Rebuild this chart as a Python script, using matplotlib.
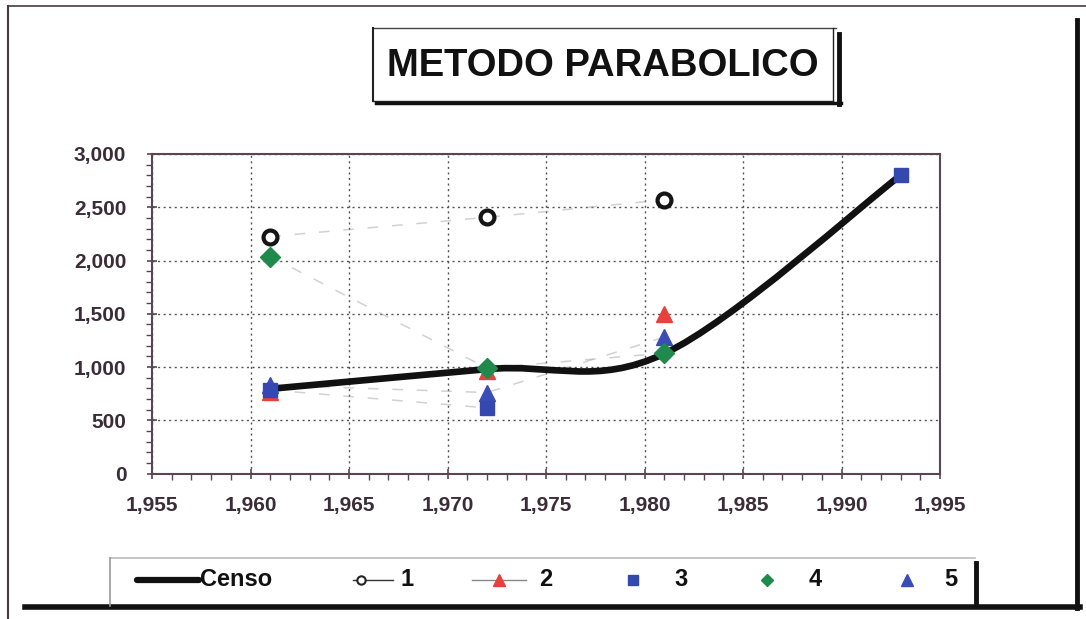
"""Recreate the METODO PARABOLICO population chart."""

import matplotlib
matplotlib.use("Agg")
import matplotlib.pyplot as plt
import numpy as np
from matplotlib.lines import Line2D
from matplotlib.path import Path
from matplotlib.patches import PathPatch


W, H = 1086, 619

YEARS = [1961, 1972, 1981, 1993]
CENSO = [795, 980, 1125, 2800]
SERIE_1 = [2225, 2405, 2570, np.nan]
SERIE_2 = [765, 965, 1500, np.nan]
SERIE_3 = [785, 616, np.nan, 2800]
SERIE_4 = [2037, 990, 1130, np.nan]
SERIE_5 = [830, 760, 1280, np.nan]

X_TICKS = list(range(1955, 2000, 5))
Y_TICKS = list(range(0, 3001, 500))
LEGEND_LABELS = ["Censo", "1", "2", "3", "4", "5"]

TEXT = "#3b2d38"
AXIS = "#5a4652"
FONT = ["Liberation Sans", "DejaVu Sans"]


def px(x, y):
    return x / W, 1 - y / H


def smooth_path(xs, ys):
    # bezier segments with Catmull-Rom style control points (like a spreadsheet smoothed line)
    pts = np.column_stack([xs, ys]).astype(float)
    ext = np.vstack([pts[0], pts, pts[-1]])
    verts, codes = [tuple(pts[0])], [Path.MOVETO]
    for i in range(len(pts) - 1):
        p0, p1, p2, p3 = ext[i], ext[i + 1], ext[i + 2], ext[i + 3]
        c1 = p1 + (p2 - p0) / 6
        c2 = p2 - (p3 - p1) / 6
        verts += [tuple(c1), tuple(c2), tuple(p2)]
        codes += [Path.CURVE4] * 3
    return Path(verts, codes)


def fig_line(fig, x0, y0, x1, y1, **kw):
    a, b = px(x0, y0)
    c, d = px(x1, y1)
    fig.add_artist(Line2D([a, c], [b, d], transform=fig.transFigure, **kw))


def fig_marker(fig, x, y, **kw):
    a, b = px(x, y)
    fig.add_artist(Line2D([a], [b], transform=fig.transFigure, linestyle="none", **kw))


def main():
    plt.rcParams["font.family"] = FONT
    fig = plt.figure(figsize=(W / 100, H / 100), dpi=100)
    fig.patch.set_facecolor("white")

    # outer chart frame with shadow
    fig_line(fig, 8, 6, 1086, 6, color="#4a3a44", lw=1.2)
    fig_line(fig, 8, 6, 8, 619, color="#4a3a44", lw=1.5)
    fig_line(fig, 1077, 20, 1077, 608, color="#111111", lw=3.5)
    fig_line(fig, 25, 607, 1080, 607, color="#111111", lw=4.0)

    # title box
    fig_line(fig, 373, 28, 836, 28, color="#444444", lw=1.0)
    fig_line(fig, 373, 28, 373, 101, color="#222222", lw=1.5)
    fig_line(fig, 833, 28, 833, 101, color="#222222", lw=1.0)
    fig_line(fig, 373, 101, 833, 101, color="#222222", lw=1.0)
    fig_line(fig, 839, 34, 839, 104, color="#111111", lw=3.5)
    fig_line(fig, 376, 103, 841, 103, color="#111111", lw=2.5)
    tx, ty = px(603, 66)
    fig.text(tx, ty, "METODO PARABOLICO", ha="center", va="center", fontsize=27.5,
             fontweight="bold", color="#111111")

    # plot area
    ax = fig.add_axes([152 / W, 1 - 473.5 / H, (940 - 152) / W, (473.5 - 154) / H])
    ax.set_xlim(1955, 1995)
    ax.set_ylim(0, 3000)
    ax.set_xticks(X_TICKS)
    ax.set_yticks(Y_TICKS)
    ax.set_xticks(range(1955, 1996), minor=True)
    ax.set_yticks(range(0, 3001, 100), minor=True)
    ax.set_xticklabels([f"{v:,}" for v in X_TICKS])
    ax.set_yticklabels([f"{v:,}" for v in Y_TICKS])
    ax.grid(True, which="major", linestyle=(0, (1.5, 2.5)), color="#555555", linewidth=1.0)
    for side in ax.spines.values():
        side.set_color(AXIS)
        side.set_linewidth(1.5)
    ax.tick_params(which="major", direction="inout", length=7, width=1.2, color=AXIS,
                   labelsize=15, labelcolor=TEXT)
    ax.tick_params(axis="y", which="major", pad=15)
    ax.tick_params(axis="x", which="major", pad=13)
    ax.tick_params(which="minor", direction="out", length=4, width=1.0, color=AXIS)
    for lab in ax.get_xticklabels() + ax.get_yticklabels():
        lab.set_fontweight("bold")

    # faint connecting lines of the projections (barely visible in the print)
    faint = dict(color="#9a9a9a", lw=1.1, linestyle=(0, (7, 9)), alpha=0.45, zorder=2)
    ax.plot(YEARS, SERIE_1, **faint)
    ax.plot(YEARS, SERIE_3, **faint)
    ax.plot(YEARS, SERIE_4, **faint)
    ax.plot(YEARS, SERIE_5, **faint)

    # census, smoothed
    ax.add_patch(PathPatch(smooth_path(YEARS, CENSO), facecolor="none", edgecolor="#111111",
                           lw=4.8, capstyle="round", joinstyle="round", zorder=3))

    ax.plot(YEARS, SERIE_2, linestyle="none", marker="^", ms=11, color="#e8403a", zorder=4)
    ax.plot(YEARS, SERIE_5, linestyle="none", marker="^", ms=11, color="#3a4cb6", zorder=5)
    ax.plot(YEARS, SERIE_3, linestyle="none", marker="s", ms=10, color="#3448b0", zorder=6)
    ax.plot(YEARS, SERIE_4, linestyle="none", marker="D", ms=10, color="#1f8a4c", zorder=6)
    ax.plot(YEARS, SERIE_1, linestyle="none", marker="o", ms=10, mfc="white",
            mec="#151515", mew=3, zorder=7)

    # legend box
    fig_line(fig, 110, 558, 975, 558, color="#bbbbbb", lw=1.2)
    fig_line(fig, 110, 558, 110, 606, color="#999999", lw=1.2)
    fig_line(fig, 976, 563, 976, 606, color="#111111", lw=3.5)
    ly = 580
    fig_line(fig, 137, ly, 199, ly, color="#111111", lw=4.5, solid_capstyle="round")
    fig_line(fig, 353, ly, 393, ly, color="#333333", lw=1.0)
    fig_marker(fig, 361, ly, marker="o", ms=6, mfc="white", mec="#222222", mew=1.5)
    fig_line(fig, 472, ly, 526, ly, color="#888888", lw=1.0)
    fig_marker(fig, 499, ly, marker="^", ms=8, color="#e8403a")
    fig_marker(fig, 633, ly, marker="s", ms=7, color="#3448b0")
    fig_marker(fig, 767, ly, marker="D", ms=6, color="#1f8a4c")
    fig_marker(fig, 907, ly, marker="^", ms=8, color="#3a4cb6")
    for xpos, label in zip([200, 401, 539, 674, 809, 944], LEGEND_LABELS):
        a, b = px(xpos, ly)
        fig.text(a, b, label, ha="left", va="center", fontsize=17, fontweight="bold",
                 color="#111111")

    fig.savefig("out.png", dpi=100)
    plt.close(fig)


if __name__ == "__main__":
    main()
